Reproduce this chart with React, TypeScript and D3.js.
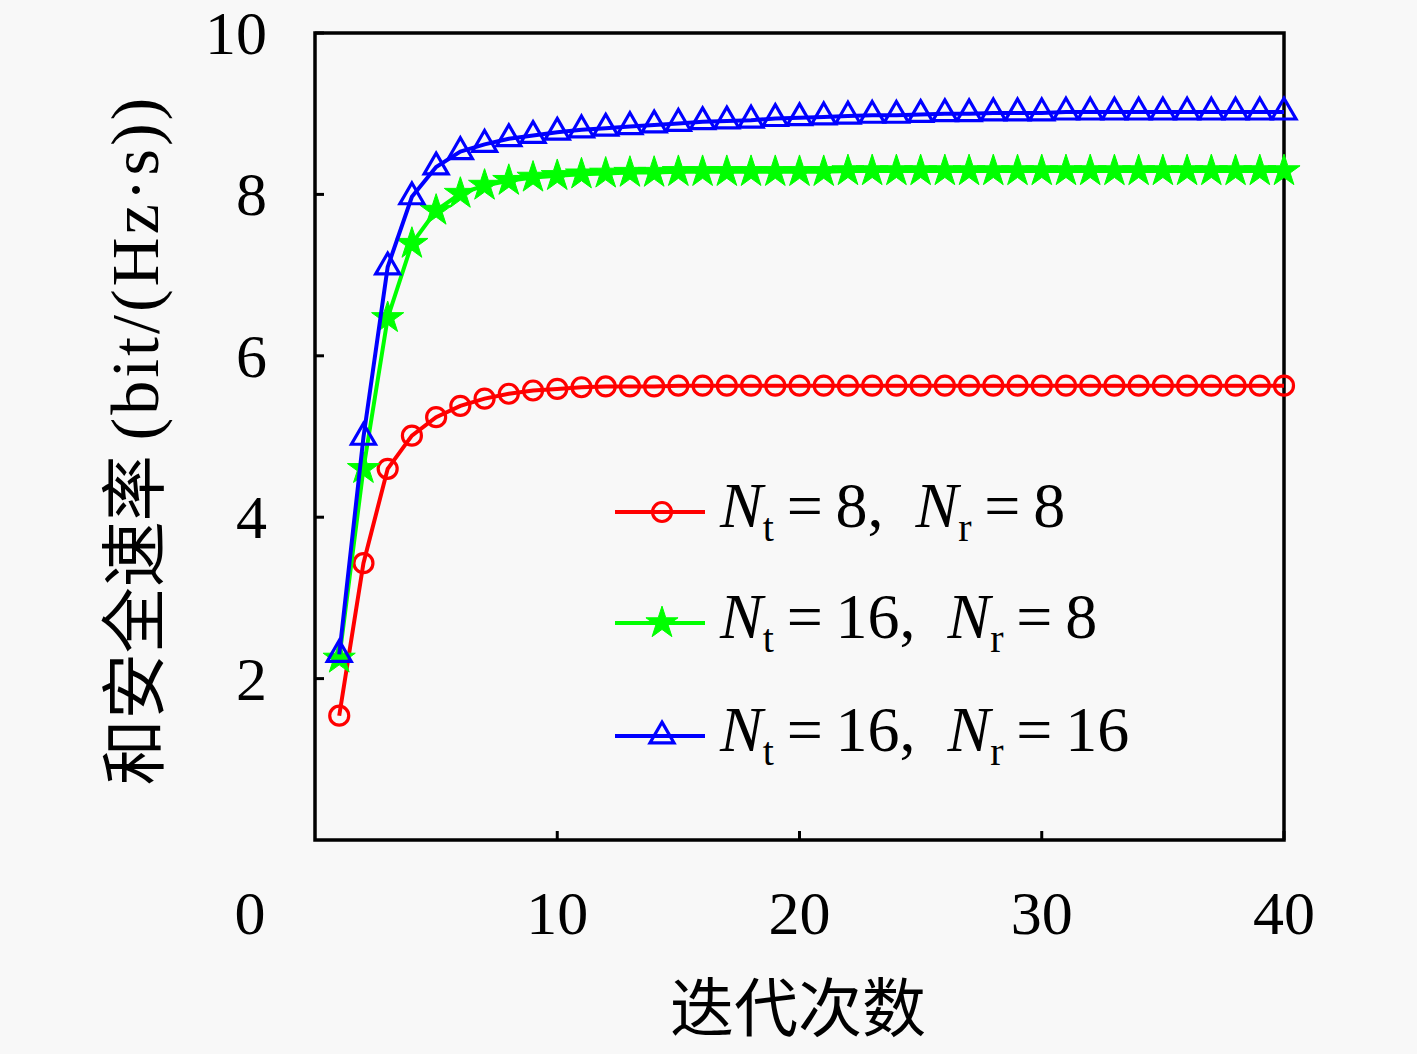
import React, { useEffect, useRef } from 'react';
import * as d3 from 'd3';

const iterations = d3.range(1, 41);

const rate8x8 = [
  1.54, 3.43, 4.60, 5.01, 5.24, 5.38, 5.47, 5.53, 5.57, 5.59,
  5.61, 5.62, 5.62, 5.62, 5.63, 5.63, 5.63, 5.63, 5.63, 5.63,
  5.63, 5.63, 5.63, 5.63, 5.63, 5.63, 5.63, 5.63, 5.63, 5.63,
  5.63, 5.63, 5.63, 5.63, 5.63, 5.63, 5.63, 5.63, 5.63, 5.63,
];

const rate16x8 = [
  2.25, 4.60, 6.47, 7.39, 7.80, 8.01, 8.11, 8.17, 8.21, 8.23,
  8.25, 8.26, 8.27, 8.27, 8.28, 8.28, 8.28, 8.28, 8.28, 8.28,
  8.28, 8.29, 8.29, 8.29, 8.29, 8.29, 8.29, 8.29, 8.29, 8.29,
  8.29, 8.29, 8.29, 8.29, 8.29, 8.29, 8.29, 8.29, 8.29, 8.29,
];

const rate16x16 = [
  2.30, 4.99, 7.10, 7.97, 8.34, 8.53, 8.62, 8.69, 8.73, 8.77,
  8.80, 8.82, 8.84, 8.86, 8.88, 8.90, 8.91, 8.92, 8.94, 8.95,
  8.96, 8.97, 8.98, 8.98, 8.99, 9.00, 9.00, 9.01, 9.01, 9.01,
  9.02, 9.02, 9.02, 9.02, 9.02, 9.02, 9.02, 9.02, 9.02, 9.02,
];

const xTicks = [10, 20, 30, 40];
const yTicks = [2, 4, 6, 8, 10];

const seriesNames = [
  { nt: '8', nr: '8' },
  { nt: '16', nr: '8' },
  { nt: '16', nr: '16' },
];
const seriesColors = ['#ff0000', '#00ff00', '#0000ff'];
const seriesMarkers = ['circle', 'star', 'triangle'];
const seriesValues = [rate8x8, rate16x8, rate16x16];

const W = 1417;
const H = 1054;
const serif = '"Liberation Serif", "DejaVu Serif", serif';
const cjk = '"Noto Sans CJK SC", sans-serif';

const App = () => {
  const svgRef: any = useRef();

  useEffect(() => {
    const svg = d3.select(svgRef.current);
    svg.selectAll('*').remove();

    svg.append('rect').attr('width', W).attr('height', H).attr('fill', '#f8f8f8');

    const x = d3.scaleLinear().domain([0, 40]).range([315, 1284]);
    const y = d3.scaleLinear().domain([0, 10]).range([840, 33]);

    // axis box
    svg.append('rect')
      .attr('x', x(0)).attr('y', y(10))
      .attr('width', x(40) - x(0)).attr('height', y(0) - y(10))
      .attr('fill', 'none').attr('stroke', '#000').attr('stroke-width', 3.5);

    // inward ticks
    svg.selectAll('.xt').data(xTicks).enter().append('line')
      .attr('x1', d => x(d)).attr('x2', d => x(d))
      .attr('y1', y(0)).attr('y2', y(0) - 9)
      .attr('stroke', '#000').attr('stroke-width', 3);
    svg.selectAll('.yt').data(yTicks).enter().append('line')
      .attr('x1', x(0)).attr('x2', x(0) + 9)
      .attr('y1', d => y(d)).attr('y2', d => y(d))
      .attr('stroke', '#000').attr('stroke-width', 3);

    // tick labels
    svg.selectAll('.xl').data(xTicks).enter().append('text')
      .attr('x', d => x(d)).attr('y', 934)
      .attr('text-anchor', 'middle')
      .attr('font-family', serif).attr('font-size', 62)
      .text(d => d);
    svg.append('text')
      .attr('x', 250).attr('y', 934)
      .attr('text-anchor', 'middle')
      .attr('font-family', serif).attr('font-size', 62)
      .text('0');
    svg.selectAll('.yl').data(yTicks).enter().append('text')
      .attr('x', 267).attr('y', d => y(d) + 21)
      .attr('text-anchor', 'end')
      .attr('font-family', serif).attr('font-size', 62)
      .text(d => d);

    // axis titles
    svg.append('text')
      .attr('x', 798).attr('y', 1031)
      .attr('text-anchor', 'middle')
      .attr('font-family', cjk).attr('font-size', 64)
      .text('迭代次数');

    const yTitle = svg.append('text')
      .attr('transform', 'translate(158, 440) rotate(-90)')
      .attr('text-anchor', 'middle');
    yTitle.append('tspan').attr('font-family', cjk).attr('font-size', 66).text('和安全速率 ');
    yTitle.append('tspan').attr('font-family', serif).attr('font-size', 68)
      .attr('letter-spacing', 3).text('(bit/(Hz·s))');

    const drawMarker = (g: any, m: string, color: string, cx: number, cy: number) => {
      if (m === 'circle') {
        g.append('circle').attr('cx', cx).attr('cy', cy).attr('r', 9.5)
          .attr('fill', 'none').attr('stroke', color).attr('stroke-width', 3.2);
      } else if (m === 'star') {
        g.append('path').attr('d', d3.symbol().type(d3.symbolStar).size(320)())
          .attr('transform', `translate(${cx},${cy})`)
          .attr('fill', color).attr('stroke', color).attr('stroke-width', 1);
      } else {
        g.append('path').attr('d', d3.symbol().type(d3.symbolTriangle).size(250)())
          .attr('transform', `translate(${cx},${cy})`)
          .attr('fill', 'none').attr('stroke', color).attr('stroke-width', 3.2);
      }
    };

    const line = d3.line<number>()
      .x((_, i) => x(iterations[i]))
      .y(d => y(d));

    seriesValues.forEach((vals, s) => {
      const g = svg.append('g');
      g.append('path').datum(vals).attr('d', line)
        .attr('fill', 'none').attr('stroke', seriesColors[s]).attr('stroke-width', 4);
      vals.forEach((v, i) => drawMarker(g, seriesMarkers[s], seriesColors[s], x(iterations[i]), y(v)));
    });

    // legend
    const legendRows = [512, 623, 736];
    seriesNames.forEach((n, s) => {
      const ly = legendRows[s];
      const g = svg.append('g');
      g.append('line').attr('x1', 615).attr('x2', 705).attr('y1', ly).attr('y2', ly)
        .attr('stroke', seriesColors[s]).attr('stroke-width', 4);
      drawMarker(g, seriesMarkers[s], seriesColors[s], 662, ly);
      const t = g.append('text').attr('x', 720).attr('y', ly + 15)
        .attr('font-family', serif).attr('font-size', 64);
      t.append('tspan').attr('font-style', 'italic').text('N');
      t.append('tspan').attr('font-size', 40).attr('dy', 14).text('t');
      t.append('tspan').attr('dy', -14).text(`\u2009=\u2009${n.nt},\u2002`);
      t.append('tspan').attr('font-style', 'italic').text('N');
      t.append('tspan').attr('font-size', 40).attr('dy', 14).text('r');
      t.append('tspan').attr('dy', -14).text(`\u2009=\u2009${n.nr}`);
    });
  }, []);

  return (
    <svg
      ref={svgRef}
      width={W}
      height={H}
      style={{ position: 'absolute', left: 0, top: 0, display: 'block' }}
    />
  );
};

export default App;
